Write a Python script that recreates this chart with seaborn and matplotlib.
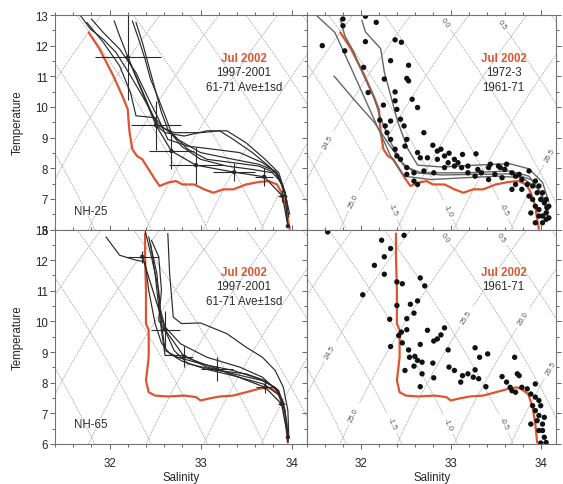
import numpy as np
import matplotlib
matplotlib.use("Agg")
import matplotlib.pyplot as plt
import seaborn as sns
from matplotlib.ticker import MultipleLocator

# ---------------- NH-25 ----------------
# July 2002 CTD profile
nh25_jul02_s = [31.77, 31.89, 32.04, 32.14, 32.20, 32.21, 32.22, 32.25, 32.30, 32.36, 32.43,
                32.50, 32.55, 32.64, 32.73, 32.80, 32.93, 33.04, 33.14, 33.25, 33.36, 33.50,
                33.64, 33.75, 33.84, 33.89, 33.94, 33.96, 33.98]
nh25_jul02_t = [12.43, 11.89, 11.02, 10.36, 9.92, 9.50, 9.16, 8.62, 8.40, 8.29, 7.96,
                7.63, 7.42, 7.53, 7.58, 7.47, 7.47, 7.31, 7.20, 7.31, 7.31, 7.47,
                7.55, 7.58, 7.47, 7.20, 6.76, 6.33, 6.02]

# 1997-2001 summer profiles
nh25_9701_s = [
    [31.68, 31.79, 31.93, 32.07, 32.21, 32.36, 32.46, 32.54, 32.71, 33.00, 33.21, 33.36, 33.57, 33.75, 33.86, 33.93, 33.96],
    [31.80, 31.93, 32.11, 32.29, 32.43, 32.54, 32.64, 32.86, 33.14, 33.43, 33.68, 33.84, 33.93, 33.97],
    [32.05, 32.11, 32.21, 32.32, 32.43, 32.52, 32.61, 32.82, 33.07, 33.29, 33.50, 33.71, 33.86, 33.94],
    [32.25, 32.32, 32.39, 32.45, 32.54, 32.61, 32.68, 32.86, 33.07, 33.36, 33.64, 33.82, 33.92, 33.98],
    [32.29, 32.36, 32.43, 32.50, 32.57, 32.64, 32.79, 33.00, 33.29, 33.57, 33.79, 33.89, 33.95],
    [31.75, 31.93, 32.11, 32.23, 32.29, 32.50, 32.57, 32.75, 33.00, 33.36, 33.64, 33.82, 33.91],
]
nh25_9701_t = [
    [12.98, 12.54, 12.21, 11.78, 11.12, 10.36, 9.82, 9.38, 9.16, 9.16, 9.22, 8.94, 8.51, 8.07, 7.74, 7.09, 6.11],
    [12.87, 12.43, 11.89, 11.12, 10.25, 9.60, 8.94, 8.72, 8.62, 8.51, 8.18, 7.85, 7.20, 6.40],
    [12.81, 12.32, 11.56, 10.80, 10.03, 9.38, 9.16, 9.05, 9.22, 9.22, 8.83, 8.29, 7.85, 7.10],
    [12.81, 12.21, 11.56, 10.91, 10.25, 9.71, 9.16, 8.62, 8.29, 8.18, 8.07, 7.85, 7.30, 6.50],
    [12.76, 12.11, 11.34, 10.58, 9.82, 9.27, 8.72, 8.29, 8.07, 7.96, 7.85, 7.53, 6.90],
    [12.76, 12.11, 11.34, 10.47, 9.71, 9.65, 9.38, 8.94, 8.51, 8.29, 8.13, 7.91, 7.40],
]

# 1961-71 average +/- 1 sd
nh25_ave_s = [32.20, 32.51, 32.68, 32.95, 33.37, 33.70, 33.90, 33.96]
nh25_ave_t = [11.62, 9.40, 8.56, 8.10, 7.87, 7.72, 7.09, 6.11]
nh25_sd_s = [0.36, 0.27, 0.25, 0.30, 0.23, 0.10, 0.05, 0.0]
nh25_sd_t = [1.40, 0.80, 0.60, 0.60, 0.30, 0.30, 0.20, 0.0]

# 1972-73 profiles
nh25_7273_s = [
    [31.50, 31.71, 31.88, 32.03, 32.18, 32.33, 32.48, 32.78, 33.16, 33.53, 33.79, 33.98, 34.05, 34.09],
    [31.70, 31.92, 32.15, 32.30, 32.48, 32.67, 33.16, 33.65, 33.87, 34.00, 34.09],
    [32.01, 32.05, 32.22, 32.26, 32.33, 32.41, 32.52, 32.63, 32.90, 33.27, 33.65, 33.87, 34.02, 34.09],
    [31.77, 31.82, 31.92, 32.03, 32.15, 32.22, 32.33, 32.45, 32.60, 32.90, 33.30, 33.70, 33.90, 34.02, 34.07],
]
nh25_7273_t = [
    [13.00, 12.43, 11.34, 10.36, 9.38, 8.40, 7.74, 7.63, 7.69, 7.74, 7.69, 7.31, 6.76, 6.33],
    [11.01, 10.25, 9.49, 8.83, 8.07, 7.85, 7.85, 7.91, 7.74, 7.20, 6.54],
    [12.83, 12.45, 11.90, 11.14, 10.38, 9.51, 8.64, 8.10, 8.04, 8.10, 8.15, 7.98, 7.54, 6.90],
    [12.87, 12.33, 11.79, 11.03, 10.27, 9.62, 8.85, 8.20, 7.85, 7.78, 7.80, 7.82, 7.62, 7.10, 6.50],
]

# 1961-71 bottle samples
nh25_6171_s = [31.80, 31.80, 32.05, 32.17, 31.57, 31.82, 32.05, 32.38, 32.45, 32.33, 32.53, 32.03,
               32.26, 32.51, 32.53, 32.08, 32.38, 32.57, 32.63, 32.25, 32.38, 32.40, 32.44, 32.48,
               32.21, 32.33, 32.70, 32.80, 32.89, 32.98, 33.13, 33.28, 32.51, 32.49, 32.63, 32.74,
               32.85, 32.97, 33.08, 33.19, 33.30, 33.42, 33.53, 33.60, 33.68, 33.76, 33.87, 33.94,
               33.98, 34.02, 34.06, 34.09, 34.06, 34.09, 34.02, 33.98, 33.94, 33.91, 33.87, 33.79,
               33.72, 33.68, 33.57, 33.49, 33.42, 33.34, 33.27, 33.19, 33.12, 33.04, 32.93, 32.81,
               32.70, 32.59, 32.51, 32.44, 32.40, 32.38, 32.33, 32.29, 32.27, 32.66, 32.85, 32.59,
               32.63, 32.51, 33.04, 32.93, 33.44, 33.55, 33.62, 33.72, 33.79, 33.85, 33.91, 33.96,
               34.00, 34.04, 33.98, 34.02, 34.06, 33.94, 34.07, 33.89]
nh25_6171_t = [12.87, 12.65, 12.96, 12.76, 12.00, 11.83, 12.13, 12.19, 12.11, 11.51, 11.36, 11.29,
               10.91, 10.93, 10.85, 10.47, 10.49, 10.25, 9.98, 10.06, 10.20, 9.92, 9.60, 9.38,
               9.57, 9.54, 9.16, 8.75, 8.62, 8.49, 8.45, 8.47, 8.94, 8.72, 8.51, 8.34,
               8.29, 8.18, 8.18, 8.07, 7.96, 8.02, 8.07, 7.96, 7.85, 7.80, 7.91, 7.58,
               7.42, 7.20, 6.98, 6.76, 6.54, 6.38, 6.22, 6.44, 6.76, 6.98, 7.09, 7.31,
               7.47, 7.31, 7.69, 7.80, 7.63, 7.85, 7.74, 7.85, 8.02, 8.07, 8.02, 7.85,
               7.91, 7.85, 8.02, 8.29, 8.40, 8.62, 8.94, 9.16, 9.38, 8.34, 8.56, 7.58,
               7.47, 7.80, 8.29, 8.40, 8.13, 8.02, 8.13, 7.74, 7.63, 7.47, 7.42, 7.20,
               6.98, 6.87, 6.65, 6.44, 6.33, 6.22, 6.71, 6.54]

# ---------------- NH-65 ----------------
nh65_jul02_s = [32.39, 32.39, 32.40, 32.40, 32.43, 32.43, 32.40, 32.43, 32.50, 32.64, 32.82, 32.95,
                33.00, 33.07, 33.21, 33.36, 33.50, 33.64, 33.73, 33.78, 33.86, 33.91, 33.94, 33.96]
nh65_jul02_t = [12.87, 12.11, 11.02, 9.93, 9.71, 8.83, 8.07, 7.69, 7.58, 7.55, 7.58, 7.53,
                7.42, 7.47, 7.55, 7.58, 7.69, 7.80, 7.85, 7.80, 7.63, 7.20, 6.65, 6.05]

nh65_9701_s = [
    [31.96, 32.11, 32.29, 32.39, 32.43, 32.50, 32.57, 32.66, 32.80, 33.05, 33.40, 33.70, 33.86],
    [32.39, 32.46, 32.54, 32.57, 32.61, 32.75, 33.00, 33.36, 33.64, 33.82, 33.91, 33.95, 33.96],
    [32.43, 32.52, 32.55, 32.61, 32.78, 33.07, 33.43, 33.68, 33.84, 33.93, 33.96],
    [32.64, 32.66, 32.70, 32.79, 33.00, 33.29, 33.50, 33.68, 33.82, 33.91, 33.96, 33.97],
    [32.46, 32.54, 32.57, 32.54, 32.61, 32.71, 32.86, 33.18, 33.50, 33.71, 33.86, 33.93],
    [32.45, 32.50, 32.54, 32.57, 32.61, 32.82, 33.07, 33.36, 33.68, 33.84, 33.92],
]
nh65_9701_t = [
    [12.76, 12.16, 12.00, 11.94, 11.02, 9.93, 9.30, 8.95, 8.70, 8.45, 8.20, 7.95, 7.60],
    [12.98, 12.11, 11.02, 9.93, 9.05, 8.83, 8.62, 8.40, 8.13, 7.85, 7.31, 6.65, 6.05],
    [12.76, 11.56, 10.47, 9.82, 9.27, 8.83, 8.51, 8.18, 7.74, 7.09, 6.11],
    [12.87, 11.56, 10.14, 9.93, 9.95, 9.60, 9.16, 8.83, 8.40, 7.85, 7.09, 6.22],
    [12.65, 12.11, 11.02, 10.03, 9.71, 9.05, 8.62, 8.40, 8.29, 8.07, 7.74, 7.09],
    [12.54, 11.56, 10.47, 9.71, 8.89, 8.89, 8.51, 8.29, 8.07, 7.80, 7.30],
]

nh65_ave_s = [32.36, 32.61, 32.82, 33.18, 33.71, 33.89, 33.96]
nh65_ave_t = [12.11, 9.73, 8.85, 8.45, 7.85, 7.31, 6.22]
nh65_sd_s = [0.18, 0.16, 0.10, 0.18, 0.10, 0.04, 0.0]
nh65_sd_t = [0.20, 0.60, 0.35, 0.40, 0.20, 0.15, 0.0]

nh65_6171_s = [31.63, 32.23, 32.48, 32.33, 32.26, 32.15, 32.26, 32.02, 32.40, 32.46, 32.66, 32.71,
               32.40, 32.55, 32.63, 32.59, 32.51, 32.32, 32.45, 32.51, 32.42, 32.74, 32.81, 32.85,
               32.93, 32.89, 32.33, 32.46, 32.53, 32.66, 32.54, 32.60, 32.63, 32.49, 32.59, 32.68,
               32.80, 32.68, 32.81, 32.66, 32.97, 32.98, 33.04, 33.11, 33.13, 33.19, 33.25, 33.27,
               33.31, 33.39, 33.27, 33.32, 33.41, 33.57, 33.62, 33.66, 33.71, 33.74, 33.76, 33.68,
               33.72, 33.79, 33.85, 33.89, 33.94, 33.94, 33.91, 33.94, 33.98, 34.02, 33.98, 34.04,
               34.06, 34.00, 33.89, 33.96, 34.02, 33.98, 34.00, 34.04]
nh65_6171_t = [12.92, 12.65, 12.81, 12.38, 12.11, 11.83, 11.54, 10.87, 11.29, 11.23, 11.42, 11.16,
               10.52, 10.56, 10.67, 10.27, 10.09, 10.07, 9.65, 9.73, 9.54, 9.71, 9.36, 9.43,
               9.79, 9.56, 9.18, 9.30, 9.07, 9.25, 8.83, 8.86, 8.73, 8.40, 8.54, 8.67,
               8.64, 8.29, 8.16, 7.87, 9.07, 8.51, 8.40, 8.02, 8.23, 8.29, 8.18, 8.42,
               8.13, 7.87, 9.14, 8.83, 8.94, 8.20, 8.02, 7.85, 8.83, 8.29, 8.23, 7.74,
               7.69, 7.85, 7.80, 7.63, 7.96, 7.53, 7.25, 7.09, 6.93, 6.65, 6.44, 6.22,
               6.05, 6.03, 6.65, 6.76, 6.44, 7.42, 7.25, 6.87]

# contour levels for sigma-t and spiciness
sigma_levels = np.arange(23.0, 27.6, 0.5)
spice_levels = np.arange(-3.0, 1.6, 0.5)

RED = "#dc5530"
INK = "#2a2a2a"


def sigma_t(S, T):
    """UNESCO 1980 density at surface pressure, minus 1000."""
    rw = (999.842594 + 6.793952e-2 * T - 9.095290e-3 * T ** 2 + 1.001685e-4 * T ** 3
          - 1.120083e-6 * T ** 4 + 6.536332e-9 * T ** 5)
    a = 8.24493e-1 - 4.0899e-3 * T + 7.6438e-5 * T ** 2 - 8.2467e-7 * T ** 3 + 5.3875e-9 * T ** 4
    b = -5.72466e-3 + 1.0227e-4 * T - 1.6546e-6 * T ** 2
    return rw + a * S + b * S ** 1.5 + 4.8314e-4 * S ** 2 - 1000.0


def spice(S, T):
    return sigma_t(S, 0.0) - sigma_t(35.0, T)


sns.set_theme(style="ticks")
plt.rcParams["font.family"] = ["Liberation Sans", "DejaVu Sans"]
plt.rcParams["axes.edgecolor"] = "0.45"
plt.rcParams["axes.linewidth"] = 0.8

fig = plt.figure(figsize=(5.63, 4.85), dpi=100)
W, H = 563.0, 485.0
x0, xm, x1 = 55, 307, 556
y0, ym, y1 = 16, 230.5, 445


def add_ax(left, right, top, bottom):
    return fig.add_axes([left / W, 1 - bottom / H, (right - left) / W, (bottom - top) / H])


ax_tl = add_ax(x0, xm, y0, ym)
ax_tr = add_ax(xm, x1, y0, ym)
ax_bl = add_ax(x0, xm, ym, y1)
ax_br = add_ax(xm, x1, ym, y1)

SS, TT = np.meshgrid(np.linspace(31.0, 34.6, 240), np.linspace(5.0, 14.0, 240))
SIG = sigma_t(SS, TT)
SPI = spice(SS, TT)

lab_top = [(31.58, 8.95), (31.88, 7.0), (32.29, 6.56), (32.91, 6.56), (33.52, 6.56),
           (32.86, 12.6), (33.49, 12.54), (34.03, 8.56)]
lab_bot = [(31.60, 9.11), (31.86, 7.05), (32.27, 6.56), (32.91, 6.56), (33.51, 6.56),
           (32.88, 12.64), (33.47, 12.54), (33.24, 10.03), (33.86, 10.03), (34.03, 8.62)]


def background(ax, labels=None):
    cs1 = ax.contour(SS, TT, SIG, levels=sigma_levels, colors="0.7", linewidths=0.6,
                     linestyles=[(0, (2.5, 1.0))], zorder=0)
    cs2 = ax.contour(SS, TT, SPI, levels=spice_levels, colors="0.7", linewidths=0.6,
                     linestyles=[(0, (2.5, 1.0))], zorder=0)
    if labels:
        sig_pts = [p for p in labels if p[0] < 32.0 or (p[1] > 8.0 and p[1] < 11.0)]
        spi_pts = [p for p in labels if p not in sig_pts]
        ax.clabel(cs1, fmt="%.1f", fontsize=5.5, colors="0.35", inline=True,
                  manual=sig_pts, inline_spacing=2)
        ax.clabel(cs2, fmt="%.1f", fontsize=5.5, colors="0.35", inline=True,
                  manual=spi_pts, inline_spacing=2)


def profile(ax, s, t, color, lw, z):
    sns.lineplot(x=np.asarray(s), y=np.asarray(t), sort=False, estimator=None,
                 color=color, linewidth=lw, ax=ax, zorder=z)


def crosses(ax, s, t, ds, dt):
    profile(ax, s, t, INK, 0.9, 4)
    ax.errorbar(s, t, xerr=ds, yerr=dt, fmt="none", ecolor=INK, elinewidth=0.8,
                capsize=0, zorder=4)
    sns.scatterplot(x=np.asarray(s), y=np.asarray(t), s=10, color=INK, edgecolor="none",
                    ax=ax, zorder=5)


# NH-25, CTD years
background(ax_tl)
profile(ax_tl, nh25_jul02_s, nh25_jul02_t, RED, 1.6, 2)
for s, t in zip(nh25_9701_s, nh25_9701_t):
    profile(ax_tl, s, t, INK, 0.85, 3)
crosses(ax_tl, nh25_ave_s, nh25_ave_t, nh25_sd_s, nh25_sd_t)

# NH-25, historical
background(ax_tr, lab_top)
profile(ax_tr, nh25_jul02_s, nh25_jul02_t, RED, 1.6, 2)
for s, t in zip(nh25_7273_s, nh25_7273_t):
    profile(ax_tr, s, t, "0.4", 1.0, 3)
sns.scatterplot(x=np.asarray(nh25_6171_s), y=np.asarray(nh25_6171_t), s=15, color="#111111",
                edgecolor="none", ax=ax_tr, zorder=4)

# NH-65, CTD years
background(ax_bl)
profile(ax_bl, nh65_jul02_s, nh65_jul02_t, RED, 1.6, 2)
for s, t in zip(nh65_9701_s, nh65_9701_t):
    profile(ax_bl, s, t, INK, 0.85, 3)
crosses(ax_bl, nh65_ave_s, nh65_ave_t, nh65_sd_s, nh65_sd_t)

# NH-65, historical
background(ax_br, lab_bot)
profile(ax_br, nh65_jul02_s, nh65_jul02_t, RED, 1.6, 2)
sns.scatterplot(x=np.asarray(nh65_6171_s), y=np.asarray(nh65_6171_t), s=15, color="#111111",
                edgecolor="none", ax=ax_br, zorder=4)

FS = 8.3
for ax in (ax_tl, ax_tr, ax_bl, ax_br):
    ax.set_xlim(31.4, 34.17)
    ax.set_ylim(6, 13)
    ax.xaxis.set_major_locator(MultipleLocator(1))
    ax.xaxis.set_minor_locator(MultipleLocator(0.2))
    ax.yaxis.set_major_locator(MultipleLocator(1))
    ax.yaxis.set_minor_locator(MultipleLocator(0.5))
    ax.tick_params(which="both", direction="out", top=True, right=True, color="0.4",
                   width=0.7, labelsize=FS, labelcolor="0.15")
    ax.tick_params(which="major", length=3.6)
    ax.tick_params(which="major", axis="x", pad=5.5)
    ax.tick_params(which="major", axis="y", pad=1.5)
    ax.tick_params(which="minor", length=2.2)
    ax.set_xlabel("")
    ax.set_ylabel("")
    for sp in ax.spines.values():
        sp.set_zorder(6)

for ax in (ax_tl, ax_tr):
    ax.tick_params(labelbottom=False)
for ax in (ax_tr, ax_br):
    ax.tick_params(labelleft=False)

# legends in text
ax_tl.text(0.75, 0.80, "Jul 2002", color=RED, fontsize=FS, fontweight="bold",
           ha="center", va="center", transform=ax_tl.transAxes)
ax_tl.text(0.75, 0.735, "1997-2001", color=INK, fontsize=FS, ha="center", va="center",
           transform=ax_tl.transAxes)
ax_tl.text(0.75, 0.665, "61-71 Ave±1sd", color=INK, fontsize=FS, ha="center", va="center",
           transform=ax_tl.transAxes)
ax_tr.text(0.79, 0.80, "Jul 2002", color=RED, fontsize=FS, fontweight="bold",
           ha="center", va="center", transform=ax_tr.transAxes)
ax_tr.text(0.79, 0.735, "1972-3", color=INK, fontsize=FS, ha="center", va="center",
           transform=ax_tr.transAxes)
ax_tr.text(0.79, 0.665, "1961-71", color=INK, fontsize=FS, ha="center", va="center",
           transform=ax_tr.transAxes)
ax_bl.text(0.75, 0.80, "Jul 2002", color=RED, fontsize=FS, fontweight="bold",
           ha="center", va="center", transform=ax_bl.transAxes)
ax_bl.text(0.75, 0.735, "1997-2001", color=INK, fontsize=FS, ha="center", va="center",
           transform=ax_bl.transAxes)
ax_bl.text(0.75, 0.665, "61-71 Ave±1sd", color=INK, fontsize=FS, ha="center", va="center",
           transform=ax_bl.transAxes)
ax_br.text(0.79, 0.80, "Jul 2002", color=RED, fontsize=FS, fontweight="bold",
           ha="center", va="center", transform=ax_br.transAxes)
ax_br.text(0.79, 0.735, "1961-71", color=INK, fontsize=FS, ha="center", va="center",
           transform=ax_br.transAxes)

ax_tl.text(0.075, 0.085, "NH-25", color=INK, fontsize=FS, ha="left", va="center",
           transform=ax_tl.transAxes)
ax_bl.text(0.075, 0.093, "NH-65", color=INK, fontsize=FS, ha="left", va="center",
           transform=ax_bl.transAxes)

fig.text(18 / W, 1 - 123 / H, "Temperature", rotation=90, ha="center", va="center",
         fontsize=FS, color="0.15")
fig.text(18 / W, 1 - 338 / H, "Temperature", rotation=90, ha="center", va="center",
         fontsize=FS, color="0.15")
fig.text(181 / W, 1 - 478 / H, "Salinity", ha="center", va="center", fontsize=FS, color="0.15")
fig.text(432 / W, 1 - 478 / H, "Salinity", ha="center", va="center", fontsize=FS, color="0.15")

fig.savefig("out.png", dpi=100)
